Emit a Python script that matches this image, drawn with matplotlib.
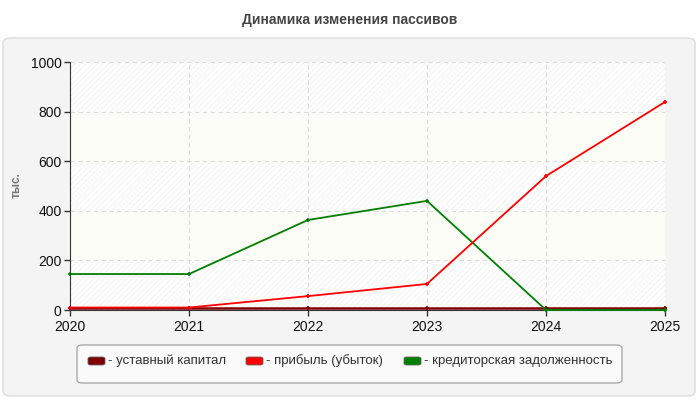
import matplotlib.pyplot as plt
from matplotlib.patches import FancyBboxPatch

years = [2020, 2021, 2022, 2023, 2024, 2025]
ustav = [10, 10, 10, 10, 10, 10]
pribyl = [10, 10, 56, 105, 540, 839]
kredit = [145, 145, 363, 440, 0, 0]

labels = ["уставный капитал", "прибыль (убыток)", "кредиторская задолженность"]
colors = ["#800000", "#ff0000", "#008000"]

plt.rcParams["font.family"] = ["Liberation Sans", "DejaVu Sans"]
plt.rcParams["hatch.linewidth"] = 0.5

fig = plt.figure(figsize=(7, 4), dpi=100)
fig.patch.set_facecolor("white")

# серая подложка
panel = FancyBboxPatch((3 / 700, 4 / 400), 692 / 700, 358 / 400,
                       boxstyle="round,pad=0,rounding_size=0.012",
                       transform=fig.transFigure, facecolor="#f4f4f4",
                       edgecolor="#dcdcdc", linewidth=1, zorder=-10)
fig.patches.append(panel)

fig.text(0.5, 1 - 20 / 400, "Динамика изменения пассивов", ha="center", va="center",
         fontsize=10, fontweight="bold", color="#444444")

ax = fig.add_axes([70 / 700, 90 / 400, 595 / 700, 248 / 400])
ax.set_facecolor("white")

# полосы фона
for i, y0 in enumerate(range(0, 1000, 200)):
    if i % 2 == 0:
        ax.axhspan(y0, y0 + 200, facecolor="white", edgecolor="#eeeeee",
                   hatch="//////", linewidth=0, zorder=0)
    else:
        ax.axhspan(y0, y0 + 200, facecolor="#fdfdf8", linewidth=0, zorder=0)

ax.plot(years, ustav, color=colors[0], lw=1.8, marker="+", ms=3.5, mew=1.2, clip_on=False, zorder=3)
ax.plot(years, kredit, color=colors[2], lw=1.3, marker="+", ms=3.5, mew=1.2, clip_on=False, zorder=4)
ax.plot(years, pribyl, color=colors[1], lw=1.3, marker="+", ms=3.5, mew=1.2, clip_on=False, zorder=5)

ax.set_xlim(2020, 2025)
ax.set_ylim(0, 1000)
ax.set_xticks(years)
ax.set_yticks(range(0, 1001, 200))
ax.grid(True, color="#dddddd", linestyle=(0, (4, 3)), linewidth=0.8, zorder=1)
for s in ["top", "right"]:
    ax.spines[s].set_visible(False)
ax.spines["left"].set_color("#333333")
ax.spines["bottom"].set_color("#333333")
ax.tick_params(axis="both", labelsize=10, colors="#333333", labelcolor="#111111", length=4, width=1)
ax.tick_params(axis="x", pad=3)
ax.tick_params(axis="y", pad=2)

fig.text(17 / 700, 1 - 185 / 400, "тыс.", rotation=90, ha="center", va="center",
         fontsize=8.5, fontweight="bold", color="#777777")

# легенда
leg = FancyBboxPatch((77 / 700, 1 - 383 / 400), 545 / 700, 38 / 400,
                     boxstyle="round,pad=0,rounding_size=0.008",
                     transform=fig.transFigure, facecolor="#fafafa",
                     edgecolor="#aaaaaa", linewidth=1, zorder=1)
fig.patches.append(leg)
xs = [88, 246, 404]
for x, lab, c in zip(xs, labels, colors):
    fig.patches.append(FancyBboxPatch((x / 700, 1 - 365 / 400), 17 / 700, 8 / 400,
                                      boxstyle="round,pad=0,rounding_size=0.004",
                                      transform=fig.transFigure, facecolor=c,
                                      edgecolor="#666666", linewidth=0.6, zorder=2))
    fig.text((x + 20) / 700, 1 - 361 / 400, "- " + lab, ha="left", va="center",
             fontsize=9.5, color="#333333")

fig.savefig("out.png", dpi=100)
